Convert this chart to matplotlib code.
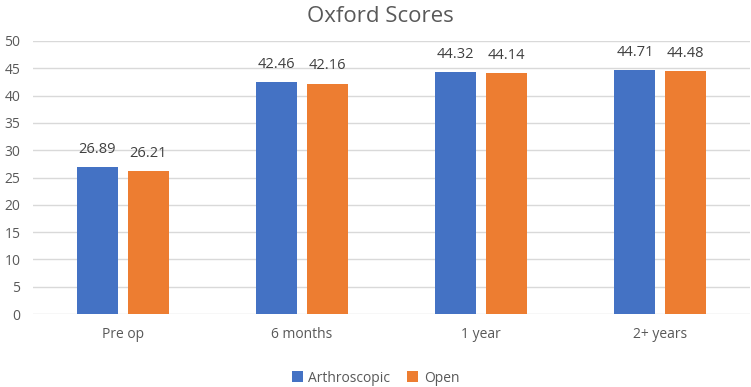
import matplotlib
matplotlib.use("Agg")
import matplotlib.pyplot as plt
import numpy as np

categories = ["Pre op", "6 months", "1 year", "2+ years"]
arthroscopic = [26.89, 42.46, 44.32, 44.71]
open_ = [26.21, 42.16, 44.14, 44.48]
series_names = ["Arthroscopic", "Open"]
colors = ["#4472C4", "#ED7D31"]
yticks = [0, 5, 10, 15, 20, 25, 30, 35, 40, 45, 50]

plt.rcParams['font.family'] = ['Open Sans', 'DejaVu Sans']
txt = "#595959"

fig = plt.figure(figsize=(7.51, 3.87), dpi=100)
ax = fig.add_axes([33/751, 73/387, (750-33)/751, (314-41)/387])

x = np.arange(len(categories))
w = 0.229
off = 0.142
b1 = ax.bar(x - off, arthroscopic, w, color=colors[0], label=series_names[0], zorder=3)
b2 = ax.bar(x + off, open_, w, color=colors[1], label=series_names[1], zorder=3)
for bars, vals in ((b1, arthroscopic), (b2, open_)):
    for r, v in zip(bars, vals):
        ax.text(r.get_x() + r.get_width()/2, v + 1.9, f"{v:.2f}", ha="center", va="bottom",
                fontsize=10.5, color="#404040")

ax.set_xlim(-0.5, len(categories) - 0.5)
ax.set_ylim(0, 50)
ax.set_yticks(yticks)
ax.set_xticks(x)
ax.set_xticklabels(categories)
ax.tick_params(axis="both", length=0, colors=txt, labelsize=10)
ax.tick_params(axis="y", pad=9)
ax.tick_params(axis="x", pad=9)
ax.yaxis.grid(True, color="#D9D9D9", linewidth=1, zorder=0)
for s in ax.spines.values():
    s.set_visible(False)
fig.text(380/751, 1 - 16/387, "Oxford Scores", fontsize=16, color=txt, ha="center", va="center")

leg = fig.legend(handles=[b1, b2], labels=series_names, loc="center", bbox_to_anchor=(0.5, 1 - 378/387),
                 ncol=2, frameon=False, fontsize=10, handlelength=0.8, handleheight=0.8,
                 handletextpad=0.4, columnspacing=1.2, labelcolor=txt)
fig.savefig("out.png", dpi=100)
